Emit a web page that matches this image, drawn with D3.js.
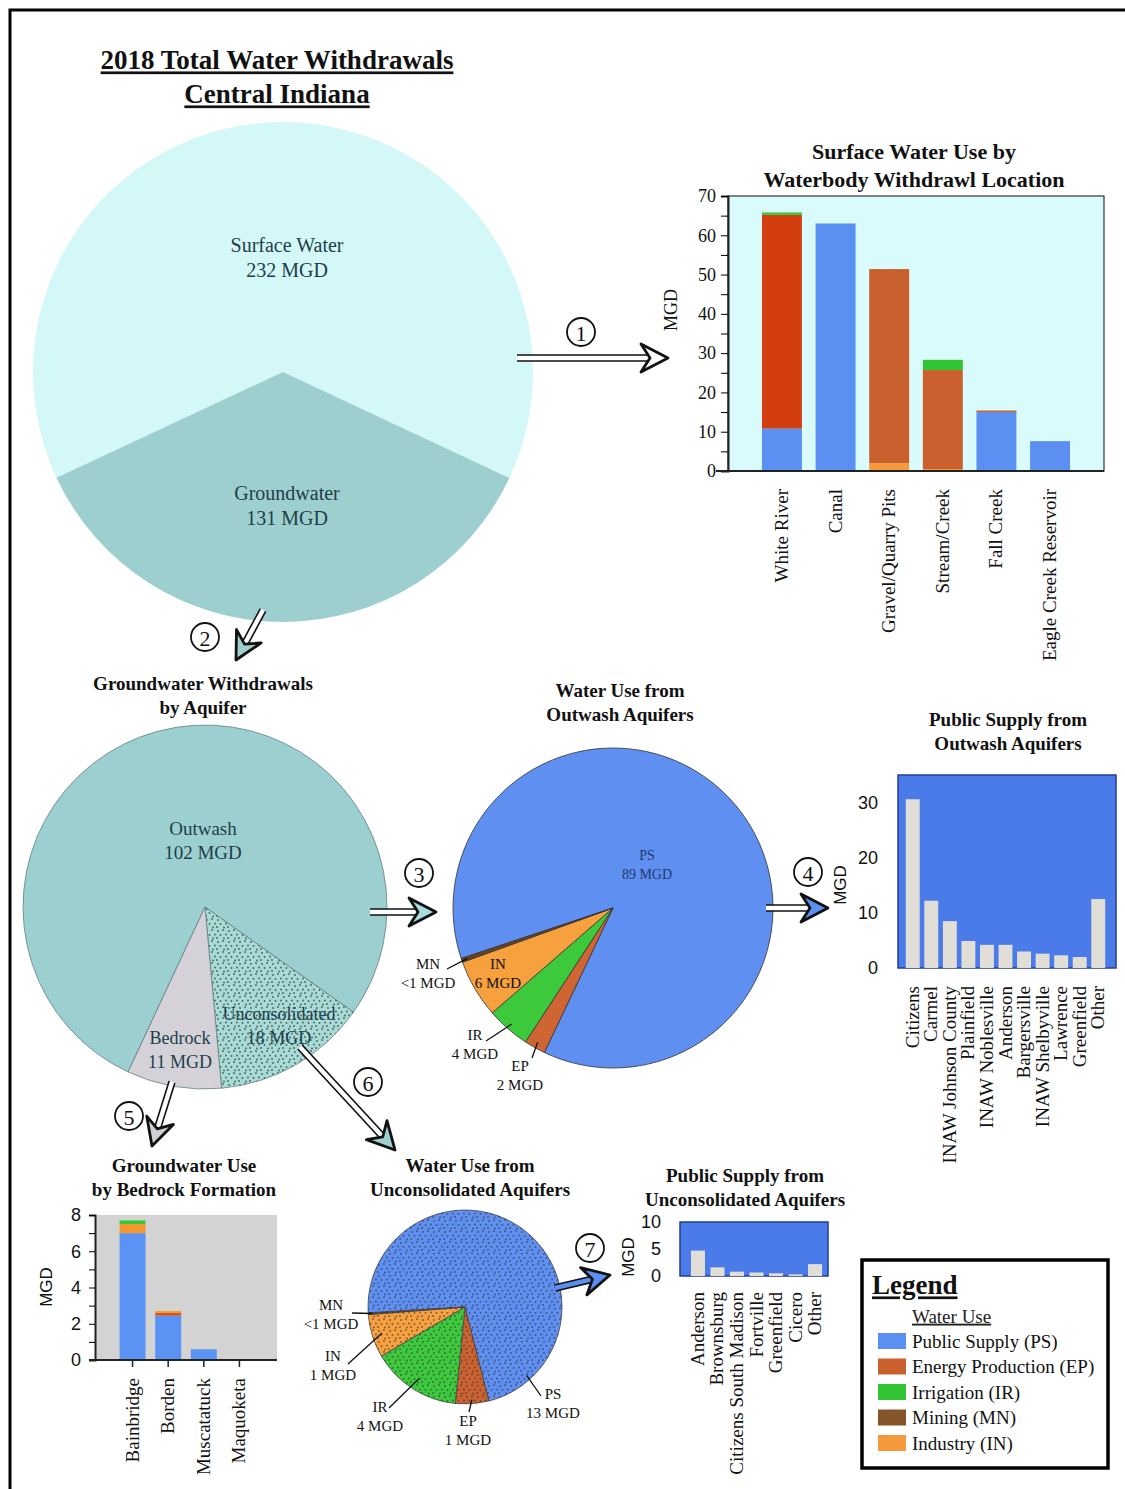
<!DOCTYPE html>
<html><head><meta charset="utf-8">
<script src="https://cdn.jsdelivr.net/npm/d3@7"></script>
<style>body{margin:0;background:#fff}svg{display:block}</style>
</head><body>
<script>
// ---------------- DATA ----------------
const mainCats = ["Surface Water","Groundwater"];
const mainVals = [232,131];
const mainLabels = [["Surface Water","232 MGD"],["Groundwater","131 MGD"]];

const aquiferCats = ["Outwash","Unconsolidated","Bedrock"];
const aquiferVals = [102,18,11];
const aquiferLabels = [["Outwash","102 MGD"],["Unconsolidated","18 MGD"],["Bedrock","11 MGD"]];

const useKeys = ["PS","EP","IR","MN","IN"];
const useNames = ["Public Supply (PS)","Energy Production (EP)","Irrigation (IR)","Mining (MN)","Industry (IN)"];

const outwashCats = ["PS","EP","IR","IN","MN"];
const outwashVals = [89,2.2,4.5,6.0,0.4];
const outwashLabels = ["89 MGD","2 MGD","4 MGD","6 MGD","<1 MGD"];

const unconCats = ["PS","EP","IR","IN","MN"];
const unconVals = [13,1.0,2.7,1.3,0.05];
const unconLabels = ["13 MGD","1 MGD","4 MGD","1 MGD","<1 MGD"];

const swCats = ["White River","Canal","Gravel/Quarry Pits","Stream/Creek","Fall Creek","Eagle Creek Reservoir"];
const swPS = [10.8,63,0,0,15,7.6];
const swEP = [54.4,0,49.4,25.2,0.4,0];
const swIR = [0.6,0,0,2.6,0,0];
const swMN = [0,0,0,0,0,0];
const swIN = [0,0,2.0,0.5,0,0];
const swTicks = [0,10,20,30,40,50,60,70];

const psOutCats = ["Citizens","Carmel","INAW Johnson County","Plainfield","INAW Noblesville","Anderson","Bargersville","INAW Shelbyville","Lawrence","Greenfield","Other"];
const psOutVals = [30.6,12.2,8.5,4.9,4.2,4.2,3.0,2.6,2.3,2.0,12.5];
const psOutTicks = [0,10,20,30];

const bedCats = ["Bainbridge","Borden","Muscatatuck","Maquoketa"];
const bedPS = [7.0,2.45,0.59,0.02];
const bedEP = [0,0.15,0,0];
const bedIN = [0.5,0.1,0,0];
const bedIR = [0.2,0,0,0];
const bedMN = [0,0,0,0];
const bedTicks = [0,2,4,6,8];

const psUnCats = ["Anderson","Brownsburg","Citizens South Madison","Fortville","Greenfield","Cicero","Other"];
const psUnVals = [4.7,1.6,0.8,0.65,0.5,0.3,2.2];
const psUnTicks = [0,5,10];

// ---------------- STYLE ----------------
const SERIF = "'Liberation Serif', 'Times New Roman', serif";
const SANS = "'Liberation Sans', Arial, sans-serif";
const useColor = {PS:"#5b90f2", EP:"#c9602e", IR:"#33c433", MN:"#84552a", IN:"#f6993c"};

const W = 1125, H = 1489;
const svg = d3.select("body").append("svg").attr("width",W).attr("height",H);
const defs = svg.append("defs");
function dotPattern(id, color, bg, r){
  const p = defs.append("pattern").attr("id",id).attr("patternUnits","userSpaceOnUse").attr("width",11).attr("height",11);
  if(bg) p.append("rect").attr("width",11).attr("height",11).attr("fill",bg);
  [[2,2],[7,1],[4.5,6],[10,5.5],[1,9],[8,9.5]].forEach(([x,y])=>p.append("circle").attr("cx",x).attr("cy",y).attr("r",r||0.9).attr("fill",color));
}
dotPattern("dotsTeal","#3f6464","#a9dad6",0.9);
dotPattern("dotsGrey","rgba(50,50,60,0.6)",null,1.0);

function txt(g,x,y,s,o={}){
  return g.append("text").attr("x",x).attr("y",y).attr("dy","0.35em")
    .attr("text-anchor",o.anchor||"middle").attr("font-family",o.font||SERIF)
    .attr("font-size",o.size||16).attr("font-weight",o.bold?"bold":"normal")
    .attr("fill",o.color||"#111").attr("text-decoration",o.underline?"underline":null).text(s);
}
function lines2(g,x,y,arr,o,gap){ arr.forEach((s,i)=>txt(g,x,y+i*(gap||23),s,o)); }

// outer frame
svg.append("rect").attr("x",10).attr("y",10).attr("width",1140).attr("height",1500).attr("fill","none").attr("stroke","#000").attr("stroke-width",3);

// ---------------- ARROWS ----------------
function arrow(x1,y1,x2,y2,fill,shaftFill){
  const ang = Math.atan2(y2-y1,x2-x1)*180/Math.PI;
  const L = Math.hypot(x2-x1,y2-y1);
  const g = svg.append("g").attr("transform",`translate(${x1},${y1}) rotate(${ang})`);
  g.append("rect").attr("x",0).attr("y",-3).attr("width",L-16).attr("height",6).attr("fill",shaftFill||"#fff");
  g.append("line").attr("x1",0).attr("y1",-3).attr("x2",L-16).attr("y2",-3).attr("stroke","#111").attr("stroke-width",1.6);
  g.append("line").attr("x1",0).attr("y1",3).attr("x2",L-16).attr("y2",3).attr("stroke","#111").attr("stroke-width",1.6);
  g.append("path").attr("d",`M${L},0 L${L-27},-14 L${L-18},0 L${L-27},14 Z`).attr("fill",fill).attr("stroke","#111").attr("stroke-width",2.8).attr("stroke-linejoin","round");
}
function circNum(x,y,n){
  svg.append("circle").attr("cx",x).attr("cy",y).attr("r",14).attr("fill","#fff").attr("stroke","#111").attr("stroke-width",1.8);
  txt(svg,x,y+1,n,{size:22});
}

// ---------------- TITLE ----------------
lines2(svg,277,60,["2018 Total Water Withdrawals","Central Indiana"],{bold:true,size:27,underline:true},34);

// ---------------- MAIN PIE ----------------
{
  const g = svg.append("g").attr("transform","translate(283,372)");
  const pie = d3.pie().sort(null).startAngle(245*Math.PI/180).endAngle(605*Math.PI/180);
  const arcs = pie(mainVals);
  const arc = d3.arc().innerRadius(0).outerRadius(250);
  const cols = ["#d4f7f7","#9dcfcf"];
  g.selectAll("path").data(arcs).join("path").attr("d",arc).attr("fill",(d,i)=>cols[i]);
  lines2(svg,287,245,mainLabels[0],{size:20,color:"#1d4048"},25);
  lines2(svg,287,493,mainLabels[1],{size:20,color:"#1d4048"},25);
}

arrow(517,358,668,358,"#fff");
circNum(581,332,"1");

// ---------------- SURFACE WATER BAR CHART ----------------
{
  lines2(svg,914,151,["Surface Water Use by","Waterbody Withdrawl Location"],{bold:true,size:22},28);
  const x0=728,x1=1104,yT=196,yB=471;
  svg.append("rect").attr("x",x0).attr("y",yT).attr("width",x1-x0).attr("height",yB-yT).attr("fill","#d9fbfb").attr("stroke","#333").attr("stroke-width",1.2);
  const x = d3.scaleBand().domain(swCats).range([755,1077]).paddingInner(0.255).paddingOuter(0.13);
  const y = d3.scaleLinear().domain([0,70]).range([yB,yT]);
  const rows = swCats.map((c,i)=>({cat:c,PS:swPS[i],EP:swEP[i],IR:swIR[i],MN:swMN[i],IN:swIN[i]}));
  const stack = d3.stack().keys(["IN","PS","MN","EP","IR"])(rows);
  const g = svg.append("g");
  stack.forEach(layer=>{
    g.selectAll(null).data(layer).join("rect")
      .attr("x",d=>x(d.data.cat)).attr("width",x.bandwidth())
      .attr("y",d=>y(d[1])).attr("height",d=>Math.max(0,y(d[0])-y(d[1])))
      .attr("fill",d=>layer.key==="EP"&&d.data.cat==="White River"?"#d33e0e":useColor[layer.key]);
  });
  const ax = svg.append("g").attr("transform",`translate(${x0},0)`)
    .call(d3.axisLeft(y).tickValues(d3.range(0,71,5)).tickSize(7).tickFormat(d=>swTicks.includes(d)?d:""));
  ax.select(".domain").attr("stroke","#222").attr("stroke-width",2);
  ax.selectAll("text").attr("font-family",SERIF).attr("font-size",18).attr("fill","#111").attr("x",-12);
  svg.append("line").attr("x1",x0-12).attr("x2",x1).attr("y1",yB).attr("y2",yB).attr("stroke","#222").attr("stroke-width",2);
  swCats.forEach(c=>{
    svg.append("text").attr("transform",`translate(${x(c)+x.bandwidth()/2+6},489) rotate(-90)`)
      .attr("text-anchor","end").attr("font-family",SERIF).attr("font-size",19).attr("fill","#111").text(c);
  });
  svg.append("text").attr("transform","translate(677,310) rotate(-90)").attr("text-anchor","middle")
    .attr("font-family",SERIF).attr("font-size",18).attr("fill","#111").text("MGD");
}

// ---------------- GROUNDWATER BY AQUIFER ----------------
arrow(263,610,236,660,"#9dcfcf");
circNum(205,637,"2");
lines2(svg,203,683,["Groundwater Withdrawals","by Aquifer"],{bold:true,size:19},24);
{
  const g = svg.append("g").attr("transform","translate(205,907)");
  const pie = d3.pie().sort(null).startAngle(205*Math.PI/180).endAngle(565*Math.PI/180);
  const arc = d3.arc().innerRadius(0).outerRadius(182);
  const fills = {"Outwash":"#9ccfcf","Unconsolidated":"url(#dotsTeal)","Bedrock":"#d4d1d9"};
  g.selectAll("path").data(pie(aquiferVals)).join("path").attr("d",arc)
    .attr("fill",(d,i)=>fills[aquiferCats[i]]).attr("stroke","#5a7676").attr("stroke-width",0.7);
  lines2(svg,203,828,aquiferLabels[0],{size:19,color:"#1d4048"},24);
  lines2(svg,279,1014,aquiferLabels[1],{size:18,color:"#1d4048"},24);
  lines2(svg,180,1038,aquiferLabels[2],{size:18,color:"#1d4048"},24);
}

// ---------------- OUTWASH USE PIE ----------------
arrow(370,912,436,912,"#a8dcdc");
circNum(419,873,"3");
lines2(svg,620,690,["Water Use from","Outwash Aquifers"],{bold:true,size:19},24);
{
  const cx=613, cy=908, R=160;
  const g = svg.append("g").attr("transform",`translate(${cx},${cy})`);
  const pie = d3.pie().sort(null).startAngle(251.6*Math.PI/180).endAngle(611.6*Math.PI/180);
  const arc = d3.arc().innerRadius(0).outerRadius(R);
  const cols = {PS:"#5f8ff0",EP:"#cf6532",IR:"#3cc93c",IN:"#f6a03e",MN:"#6b4220"};
  const arcs = pie(outwashVals);
  g.selectAll("path").data(arcs).join("path").attr("d",arc)
    .attr("fill",(d,i)=>cols[outwashCats[i]]).attr("stroke","#333").attr("stroke-width",0.8);
  const pt = (a,r)=>[cx+r*Math.sin(a), cy-r*Math.cos(a)];
  const mid = d=>(d.startAngle+d.endAngle)/2;
  const o = {size:15,color:"#111"};
  lines2(svg,647,855,["PS",outwashLabels[0]],{size:14,color:"#1e3a6e"},19);
  lines2(svg,498,964,["IN",outwashLabels[3]],o,19);
  lines2(svg,428,964,["MN",outwashLabels[4]],o,19);
  lines2(svg,475,1035,["IR",outwashLabels[2]],o,19);
  lines2(svg,520,1066,["EP",outwashLabels[1]],o,19);
  const leader=(a,p)=>{const q=pt(a,R-6); svg.append("line").attr("x1",p[0]).attr("y1",p[1]).attr("x2",q[0]).attr("y2",q[1]).attr("stroke","#111").attr("stroke-width",1.3);};
  leader(mid(arcs[4]),[447,969]);
  leader(mid(arcs[2]),[486,1041]);
  leader(mid(arcs[1]),[532,1058]);
}

// ---------------- PUBLIC SUPPLY OUTWASH ----------------
arrow(766,908,828,908,"#5b90f2");
circNum(808,872,"4");
lines2(svg,1008,719,["Public Supply from","Outwash Aquifers"],{bold:true,size:19},24);
{
  const x0=898,x1=1116,yT=775,yB=968;
  svg.append("rect").attr("x",x0).attr("y",yT).attr("width",x1-x0).attr("height",yB-yT).attr("fill","#4a7be8").attr("stroke","#223d99").attr("stroke-width",1.5);
  const x = d3.scaleBand().domain(psOutCats).range([903,1108]).paddingInner(0.25).paddingOuter(0.15);
  const y = d3.scaleLinear().domain([0,35]).range([yB,yT]);
  svg.selectAll(null).data(psOutCats).join("rect")
    .attr("x",d=>x(d)).attr("width",x.bandwidth())
    .attr("y",(d,i)=>y(psOutVals[i])).attr("height",(d,i)=>yB-y(psOutVals[i]))
    .attr("fill","#e9e4d6").attr("opacity",0.95);
  const ax = svg.append("g").attr("transform",`translate(${x0},0)`).call(d3.axisLeft(y).tickValues(psOutTicks).tickSize(0));
  ax.select(".domain").remove();
  ax.selectAll("text").attr("font-family",SANS).attr("font-size",18).attr("fill","#111").attr("x",-20);
  psOutCats.forEach(c=>{
    svg.append("text").attr("transform",`translate(${x(c)+x.bandwidth()/2+6},986) rotate(-90)`)
      .attr("text-anchor","end").attr("font-family",SERIF).attr("font-size",19).attr("fill","#111").text(c);
  });
  svg.append("text").attr("transform","translate(846,885) rotate(-90)").attr("text-anchor","middle")
    .attr("font-family",SANS).attr("font-size",17).attr("fill","#111").text("MGD");
}

// ---------------- BEDROCK ----------------
arrow(172,1082,152,1146,"#cfcfd6");
circNum(129,1116,"5");
lines2(svg,184,1165,["Groundwater Use","by Bedrock Formation"],{bold:true,size:19},24);
{
  const x0=95,x1=277,yT=1215,yB=1360;
  svg.append("rect").attr("x",x0).attr("y",yT).attr("width",x1-x0).attr("height",yB-yT).attr("fill","#d3d3d3");
  const x = d3.scaleBand().domain(bedCats).range([x0,x1]).paddingInner(0.27).paddingOuter(0.69);
  const y = d3.scaleLinear().domain([0,8]).range([yB,yT]);
  const rows = bedCats.map((c,i)=>({cat:c,PS:bedPS[i],EP:bedEP[i],IN:bedIN[i],IR:bedIR[i],MN:bedMN[i]}));
  const stack = d3.stack().keys(["PS","EP","MN","IN","IR"])(rows);
  const bc = {PS:"#5b93f5",EP:"#d6521a",IN:"#f5962f",IR:"#37c837",MN:"#84552a"};
  stack.forEach(layer=>{
    svg.selectAll(null).data(layer).join("rect")
      .attr("x",d=>x(d.data.cat)).attr("width",x.bandwidth())
      .attr("y",d=>y(d[1])).attr("height",d=>Math.max(0,y(d[0])-y(d[1]))).attr("fill",bc[layer.key]);
  });
  const ax = svg.append("g").attr("transform",`translate(${x0},0)`)
    .call(d3.axisLeft(y).tickValues(d3.range(0,9,1)).tickSize(6).tickFormat(d=>bedTicks.includes(d)?d:""));
  ax.select(".domain").attr("stroke","#222").attr("stroke-width",2);
  ax.selectAll("text").attr("font-family",SANS).attr("font-size",18).attr("fill","#111").attr("x",-14);
  const bx = svg.append("g").attr("transform",`translate(0,${yB})`).call(d3.axisBottom(x).tickSize(7).tickFormat(""));
  bx.select(".domain").attr("stroke","#222").attr("stroke-width",2).attr("d",`M${x0-6},0H${x1}`);
  bx.selectAll("line").attr("stroke","#222").attr("stroke-width",1.5);
  bedCats.forEach(c=>{
    svg.append("text").attr("transform",`translate(${x(c)+x.bandwidth()/2+6},1378) rotate(-90)`)
      .attr("text-anchor","end").attr("font-family",SERIF).attr("font-size",19).attr("fill","#111").text(c);
  });
  svg.append("text").attr("transform","translate(52,1287) rotate(-90)").attr("text-anchor","middle")
    .attr("font-family",SANS).attr("font-size",17).attr("fill","#111").text("MGD");
}

// ---------------- UNCONSOLIDATED USE PIE ----------------
arrow(300,1047,395,1150,"#9dcfcf");
circNum(368,1082,"6");
lines2(svg,470,1165,["Water Use from","Unconsolidated Aquifers"],{bold:true,size:19},24);
{
  const cx=465, cy=1307, R=97;
  const g = svg.append("g").attr("transform",`translate(${cx},${cy})`);
  const pie = d3.pie().sort(null).startAngle(266.5*Math.PI/180).endAngle(626.5*Math.PI/180);
  const arc = d3.arc().innerRadius(0).outerRadius(R);
  const cols = {PS:"#5f8ff0",EP:"#cc6230",IR:"#3cc93c",IN:"#f6a03e",MN:"#6b4220"};
  const arcs = pie(unconVals);
  g.selectAll("path.s").data(arcs).join("path").attr("class","s").attr("d",arc)
    .attr("fill",(d,i)=>cols[unconCats[i]]).attr("stroke","#444").attr("stroke-width",0.8);
  g.append("circle").attr("r",R).attr("fill","url(#dotsGrey)");
  const pt = (a,r)=>[cx+r*Math.sin(a), cy-r*Math.cos(a)];
  const mid = d=>(d.startAngle+d.endAngle)/2;
  const o = {size:15,color:"#111"};
  lines2(svg,553,1394,["PS",unconLabels[0]],o,19);
  lines2(svg,468,1421,["EP",unconLabels[1]],o,19);
  lines2(svg,380,1407,["IR",unconLabels[2]],o,19);
  lines2(svg,333,1356,["IN",unconLabels[3]],o,19);
  lines2(svg,331,1305,["MN",unconLabels[4]],o,19);
  const leader=(a,r,p)=>{const q=pt(a,r); svg.append("line").attr("x1",p[0]).attr("y1",p[1]).attr("x2",q[0]).attr("y2",q[1]).attr("stroke","#111").attr("stroke-width",1.3);};
  leader(arcs[0].endAngle-27.8*Math.PI/180, R-5, [541,1396]);
  leader(mid(arcs[1]), R-4, [469,1412]);
  leader(mid(arcs[2]), R-12, [389,1408]);
  leader(mid(arcs[3]), R-10, [348,1364]);
  leader(mid(arcs[4]), R-4, [352,1313]);
}

// ---------------- PUBLIC SUPPLY UNCONSOLIDATED ----------------
arrow(555,1288,610,1275,"#5b90f2","#5b90f2");
circNum(590,1248,"7");
lines2(svg,745,1175,["Public Supply from","Unconsolidated Aquifers"],{bold:true,size:19},24);
{
  const x0=680,x1=828,yT=1222,yB=1276;
  svg.append("rect").attr("x",x0).attr("y",yT).attr("width",x1-x0).attr("height",yB-yT).attr("fill","#4a7be8").attr("stroke","#223d99").attr("stroke-width",1.5);
  const x = d3.scaleBand().domain(psUnCats).range([688,825]).paddingInner(0.28).paddingOuter(0.15);
  const y = d3.scaleLinear().domain([0,10]).range([yB,yT]);
  svg.selectAll(null).data(psUnCats).join("rect")
    .attr("x",d=>x(d)).attr("width",x.bandwidth())
    .attr("y",(d,i)=>y(psUnVals[i])).attr("height",(d,i)=>yB-y(psUnVals[i]))
    .attr("fill","#e9e4d6").attr("opacity",0.95);
  const ax = svg.append("g").attr("transform",`translate(${x0},0)`).call(d3.axisLeft(y).tickValues(psUnTicks).tickSize(0));
  ax.select(".domain").remove();
  ax.selectAll("text").attr("font-family",SANS).attr("font-size",18).attr("fill","#111").attr("x",-19);
  psUnCats.forEach(c=>{
    svg.append("text").attr("transform",`translate(${x(c)+x.bandwidth()/2+6},1292) rotate(-90)`)
      .attr("text-anchor","end").attr("font-family",SERIF).attr("font-size",19).attr("fill","#111").text(c);
  });
  svg.append("text").attr("transform","translate(634,1257) rotate(-90)").attr("text-anchor","middle")
    .attr("font-family",SANS).attr("font-size",17).attr("fill","#111").text("MGD");
}

// ---------------- LEGEND ----------------
{
  svg.append("rect").attr("x",862).attr("y",1260).attr("width",246).attr("height",208).attr("fill","#fff").attr("stroke","#000").attr("stroke-width",3.5);
  txt(svg,872,1285,"Legend",{anchor:"start",bold:true,size:27,underline:true});
  txt(svg,912,1316,"Water Use",{anchor:"start",size:19,underline:true,color:"#222"});
  useKeys.forEach((k,i)=>{
    const cy = 1341 + i*25.5;
    svg.append("rect").attr("x",878).attr("y",cy-8).attr("width",28).attr("height",16).attr("fill",useColor[k]);
    txt(svg,912,cy,useNames[i],{anchor:"start",size:19,color:"#111"});
  });
}
</script>
</body></html>
